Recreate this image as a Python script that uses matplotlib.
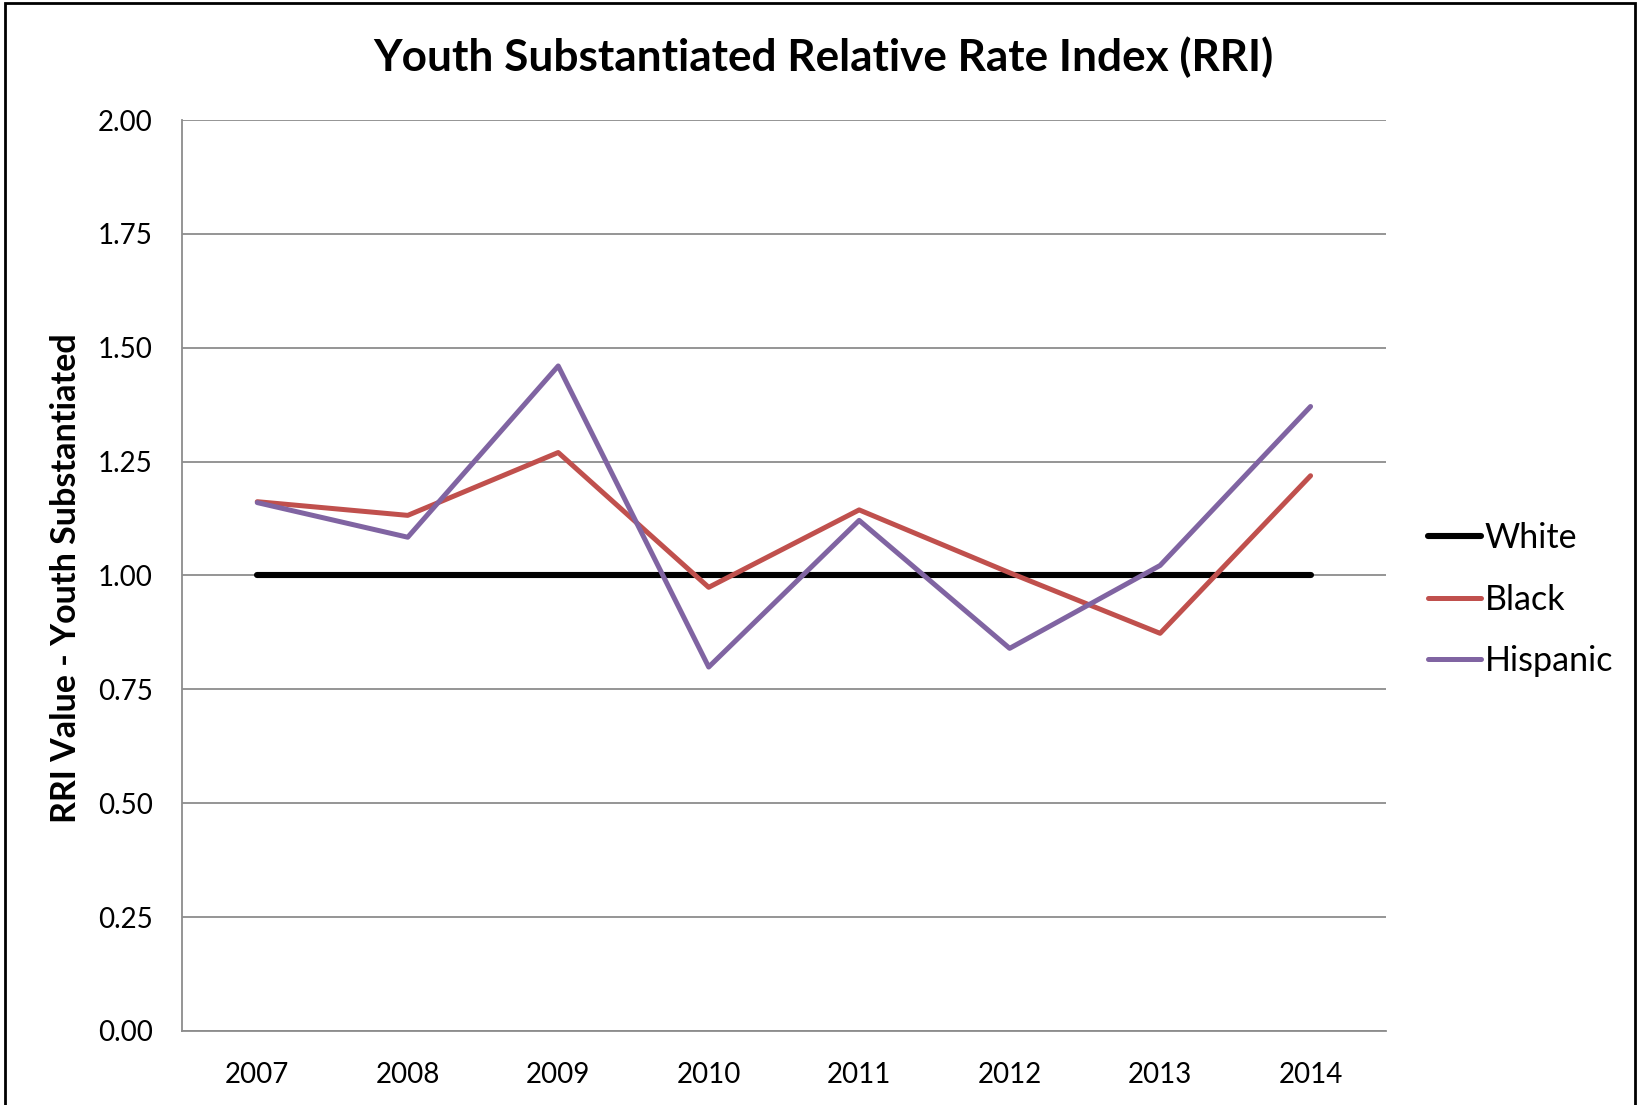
import matplotlib

matplotlib.use("Agg")
import matplotlib.pyplot as plt
from matplotlib.patches import Rectangle

plt.rcParams["font.family"] = ["Lato", "DejaVu Sans"]

# data
years = ["2007", "2008", "2009", "2010", "2011", "2012", "2013", "2014"]
white = [1.00, 1.00, 1.00, 1.00, 1.00, 1.00, 1.00, 1.00]
black = [1.162, 1.132, 1.270, 0.974, 1.144, 1.006, 0.873, 1.219]
hispanic = [1.160, 1.084, 1.460, 0.799, 1.121, 0.840, 1.022, 1.371]
y_ticks = [0.00, 0.25, 0.50, 0.75, 1.00, 1.25, 1.50, 1.75, 2.00]

fig = plt.figure(figsize=(16.4, 11.05), dpi=100)
ax = fig.add_axes([0.111, 0.067, 0.734, 0.8244])

x = list(range(len(years)))
ax.plot(x, white, color="black", lw=4.4, solid_capstyle="round", label="White", zorder=3)
ax.plot(x, black, color="#C0504D", lw=3.6, solid_capstyle="round", label="Black", zorder=4)
ax.plot(x, hispanic, color="#8064A2", lw=3.6, solid_capstyle="round", label="Hispanic", zorder=5)

ax.set_xlim(-0.5, len(years) - 0.5)
ax.set_ylim(0, 2.0)
ax.set_xticks(x)
ax.set_xticklabels(years)
ax.set_yticks(y_ticks)
ax.set_yticklabels([f"{v:.2f}" for v in y_ticks])
ax.tick_params(axis="both", length=0, labelsize=20)
ax.tick_params(axis="y", pad=21)
ax.tick_params(axis="x", pad=22.5)

ax.grid(axis="y", color="#8c8c8c", lw=1.3)
ax.set_axisbelow(True)
for side in ["top", "right"]:
    ax.spines[side].set_visible(False)
for side in ["left", "bottom"]:
    ax.spines[side].set_color("#8c8c8c")
    ax.spines[side].set_linewidth(1.3)

fig.text(0.0402, 0.477, "RRI Value - Youth Substantiated", rotation=90,
         ha="center", va="center", fontsize=24.5, fontweight="bold")

fig.text(0.502, 0.948, "Youth Substantiated Relative Rate Index (RRI)",
         ha="center", va="center", fontsize=31.8, fontweight="bold")

leg = ax.legend(loc="center left", bbox_to_anchor=(1.024, 0.4735), frameon=False,
                fontsize=24.5, handlelength=1.55, handletextpad=0.1,
                labelspacing=0.86, borderaxespad=0)

fig.patches.append(Rectangle((0.003, -0.02), 0.994, 1.017, transform=fig.transFigure,
                             fill=False, edgecolor="black", lw=2.0))

fig.savefig("out.png", dpi=100)
